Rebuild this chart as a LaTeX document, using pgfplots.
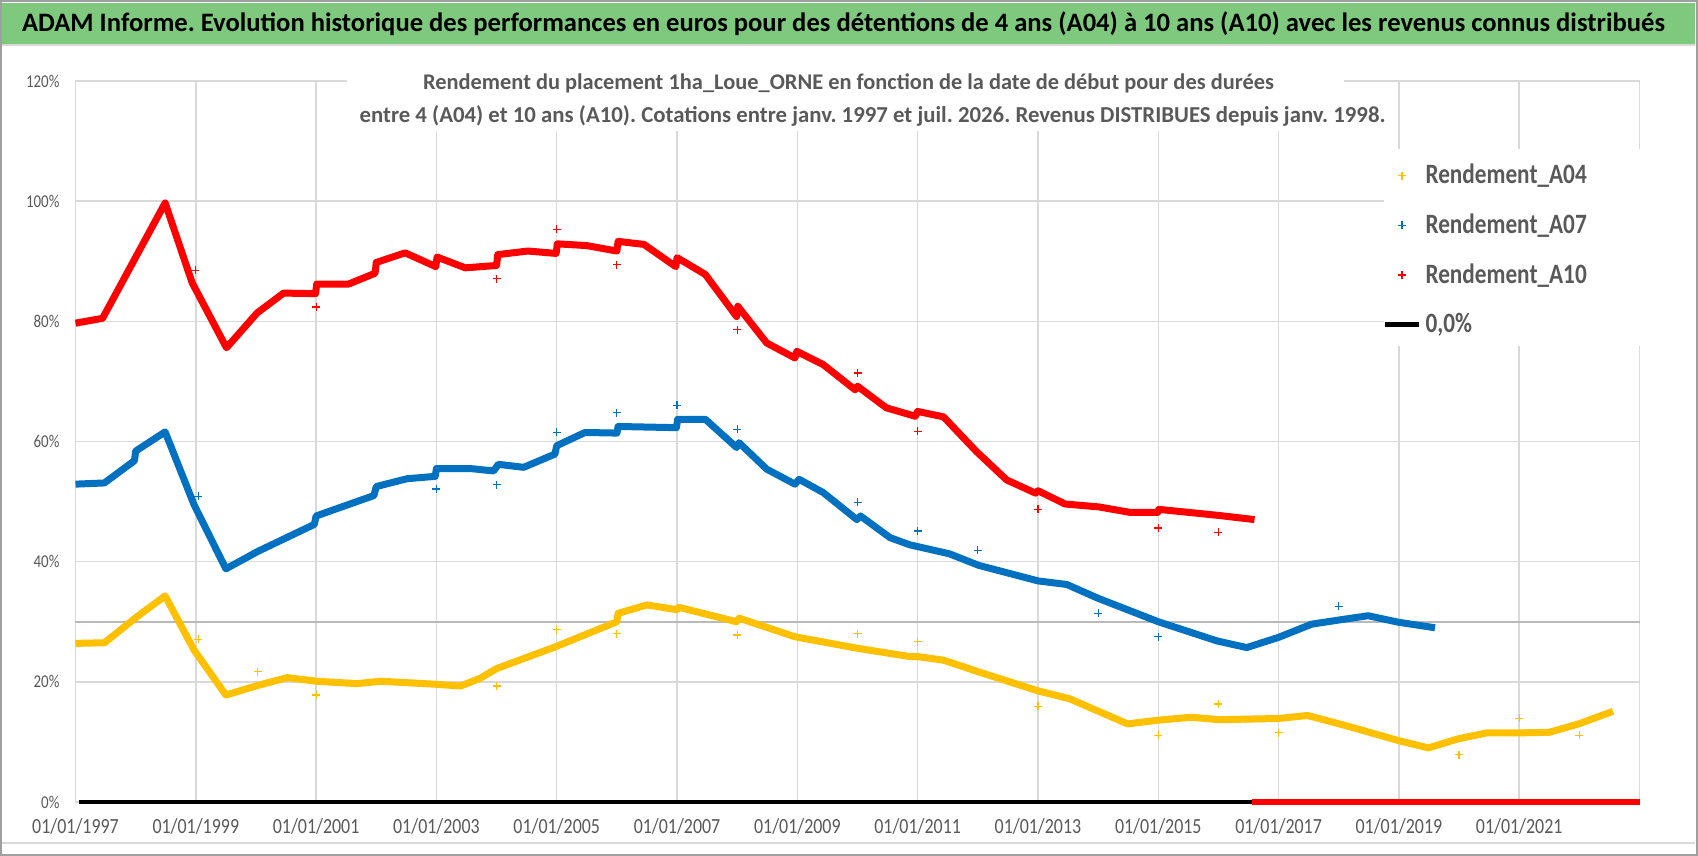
\documentclass[border=0pt]{standalone}
\usepackage{fontspec}
\setmainfont{Carlito}[FakeStretch=0.83]
\newfontfamily\titlefont{Carlito}
\usepackage{pgfplots}
\pgfplotsset{compat=1.18}
\definecolor{ygold}{HTML}{FFC000}
\definecolor{xblue}{HTML}{0070C0}
\definecolor{xred}{HTML}{FF0000}
\definecolor{txtgray}{HTML}{595959}
\definecolor{gridgray}{HTML}{D9D9D9}
\definecolor{band}{HTML}{7FC97F}
\frenchspacing
\begin{document}
\begin{tikzpicture}[x=0.5pt,y=0.5pt]
\path[use as bounding box] (0,0) rectangle (1698,856);
\fill[white] (0,0) rectangle (1698,856);
\fill[band] (2,812) rectangle (1695,853);
\draw[gridgray, line width=0.75pt] (2,811) -- (1695,811);
\draw[gridgray, line width=0.75pt] (2,13) -- (1695,13);
\draw[gray!75, line width=1pt] (1,1) rectangle (1697,855);
\node[anchor=base, font=\titlefont\bfseries\fontsize{13.3}{15}\selectfont, text=black, inner sep=0pt] at (843.5,824)
 {ADAM Informe. Evolution historique des performances en euros pour des détentions de 4 ans (A04) à 10 ans (A10) avec les revenus connus distribués};
\begin{axis}[
 at={(37.75pt,27pt)}, anchor=south west, scale only axis,
 width=782pt, height=360.5pt,
 xmin=1997, xmax=2023, ymin=0, ymax=120,
 xtick={1997,1999,2001,2003,2005,2007,2009,2011,2013,2015,2017,2019,2021,2023},
 xticklabels={01/01/1997,01/01/1999,01/01/2001,01/01/2003,01/01/2005,01/01/2007,01/01/2009,01/01/2011,01/01/2013,01/01/2015,01/01/2017,01/01/2019,01/01/2021,{}},
 ytick={0,20,40,60,80,100,120},
 /pgf/number format/assume math mode=true,
 yticklabel={\pgfmathprintnumber{\tick}\%},
 extra y ticks={30}, extra y tick labels={},
 extra y tick style={major grid style={draw=gray!55, line width=0.8pt}},
 grid=major, major grid style={draw=gridgray, line width=0.75pt},
 axis line style={draw=none}, major tick length=0pt,
 xticklabel style={font=\fontsize{10.8}{12}\selectfont, text=txtgray, anchor=north, yshift=-4.5pt},
 yticklabel style={font=\fontsize{9}{10}\selectfont, text=txtgray, anchor=east, xshift=-4.5pt},
 clip=false,
 legend style={at={(axis cs:2018.39,108.2)}, anchor=north west, draw=none, fill=none,
   font=\bfseries\fontsize{14}{16}\selectfont, text=txtgray, row sep=9.5pt,
   inner xsep=10pt, inner ysep=4pt},
 legend cell align=left,
]
% white boxes for chart title and legend
\fill[white] (axis cs:2001.52,111.7) rectangle (axis cs:2018.08,121);
\fill[white] (axis cs:2018.75,75.9) rectangle (axis cs:2023.2,108.7);
\node[font=\titlefont\bfseries\fontsize{11.2}{13}\selectfont, text=txtgray] at (axis cs:2009.85,119.6)
 {Rendement du placement 1ha\_Loue\_ORNE en fonction de la date de début pour des durées};
\node[font=\titlefont\bfseries\fontsize{11.4}{13}\selectfont, text=txtgray] at (axis cs:2010.25,114.1)
 {entre 4 (A04) et 10 ans (A10). Cotations entre janv. 1997 et juil. 2026. Revenus DISTRIBUES depuis janv. 1998.};

% zero line
\addplot[black, line width=2.4pt, forget plot] coordinates {(1997.05,0) (2023,0)};
\addplot[xred, line width=3pt, forget plot] coordinates {(2016.55,0) (2023,0)};

% A04
\addplot[ygold, line width=3.5pt, line join=round, forget plot] coordinates {
(1997.00,26.4) (1997.48,26.5) (1998.03,30.9) (1998.49,34.3) (1998.97,25.3) (1999.50,17.8)
(2000.03,19.4) (2000.52,20.7) (2001.00,20.1) (2001.68,19.7) (2002.07,20.1) (2002.98,19.6)
(2003.40,19.3) (2003.73,20.6) (2004.00,22.2) (2004.97,25.8) (2006.00,30.0) (2006.02,31.4)
(2006.50,32.8) (2007.00,32.0) (2007.03,32.4) (2007.99,30.0) (2008.03,30.6) (2008.96,27.5)
(2009.99,25.6) (2010.87,24.2) (2011.00,24.2) (2011.43,23.6) (2012.00,21.7) (2013.00,18.5)
(2013.52,17.2) (2014.49,13.0) (2014.98,13.6) (2015.54,14.1) (2016.02,13.7) (2017.00,13.9)
(2017.48,14.4) (2018.12,12.7) (2019.00,10.2) (2019.49,9.0) (2019.98,10.5) (2020.46,11.5)
(2021.00,11.5) (2021.50,11.6) (2021.99,13.0) (2022.56,15.1)};
\addplot[only marks, mark=+, mark size=2pt, ygold, line width=0.6pt, forget plot] coordinates {
(1999.04,27.1) (2000.03,21.7) (2001.0,17.8) (2004.0,19.3) (2005.0,28.7) (2006.0,28.0)
(2008.0,27.8) (2010.0,28.0) (2011.0,26.7) (2013.0,15.9) (2015.0,11.1) (2016.0,16.3)
(2017.0,11.5) (2020.0,7.9) (2021.0,13.9) (2022.0,11.1)};

% A07
\addplot[xblue, line width=3.5pt, line join=round, forget plot] coordinates {
(1997.00,52.9) (1997.48,53.1) (1997.98,56.8) (1998.00,58.4) (1998.49,61.6) (1998.97,49.5)
(1999.50,38.8) (2000.03,41.7) (2000.97,46.2) (2001.00,47.6) (2001.96,51.0) (2002.00,52.5)
(2002.51,53.8) (2002.98,54.2) (2003.00,55.5) (2003.56,55.5) (2003.95,55.1) (2004.03,56.2)
(2004.45,55.7) (2004.97,57.9) (2005.00,59.3) (2005.47,61.5) (2006.00,61.4) (2006.02,62.5)
(2006.99,62.3) (2007.01,63.7) (2007.47,63.7) (2007.99,59.0) (2008.03,59.8) (2008.49,55.4)
(2008.96,52.9) (2009.03,53.7) (2009.43,51.5) (2009.99,47.0) (2010.05,47.6) (2010.54,44.0)
(2010.87,42.8) (2011.53,41.3) (2012.01,39.4) (2013.00,36.8) (2013.48,36.2) (2014.00,33.9)
(2015.00,30.0) (2015.98,26.8) (2016.47,25.7) (2017.00,27.4) (2017.55,29.6) (2018.01,30.3)
(2018.49,31.0) (2019.00,29.9) (2019.60,29.0)};
\addplot[only marks, mark=+, mark size=2pt, xblue, line width=0.6pt, forget plot] coordinates {
(1999.04,50.9) (2003.0,52.1) (2004.0,52.8) (2005.0,61.5) (2006.0,64.8) (2007.0,66.0)
(2008.0,62.0) (2010.0,49.9) (2011.0,45.1) (2012.0,41.9) (2014.0,31.4) (2015.0,27.5) (2018.0,32.6)};

% A10
\addplot[xred, line width=3.5pt, line join=round, forget plot] coordinates {
(1997.00,79.7) (1997.45,80.5) (1998.49,99.7) (1998.94,86.4) (1999.51,75.6) (2000.02,81.4)
(2000.46,84.7) (2000.99,84.6) (2001.01,86.2) (2001.54,86.2) (2001.98,88.0) (2002.00,89.8)
(2002.48,91.4) (2002.99,89.1) (2003.01,90.7) (2003.48,88.9) (2004.00,89.3) (2004.02,91.1)
(2004.52,91.7) (2004.99,91.3) (2005.01,92.9) (2005.50,92.6) (2006.00,91.7) (2006.02,93.3)
(2006.45,92.8) (2006.98,89.1) (2007.00,90.6) (2007.47,87.8) (2007.99,80.8) (2008.01,82.5)
(2008.49,76.4) (2008.96,73.9) (2008.99,75.0) (2009.43,72.8) (2009.96,68.6) (2010.00,69.2)
(2010.48,65.6) (2010.96,64.2) (2011.00,65.0) (2011.43,64.1) (2011.98,58.3) (2012.48,53.6)
(2012.96,51.4) (2013.00,51.8) (2013.45,49.6) (2014.02,49.1) (2014.53,48.2) (2014.99,48.2)
(2015.01,48.7) (2016.00,47.7) (2016.60,47.0)};
\addplot[only marks, mark=+, mark size=2pt, xred, line width=0.6pt, forget plot] coordinates {
(1998.99,88.5) (2001.0,82.4) (2004.0,87.1) (2005.0,95.3) (2006.0,89.4) (2008.0,78.6)
(2010.0,71.4) (2011.0,61.7) (2013.0,48.7) (2015.0,45.6) (2016.0,44.9)};

\addlegendimage{only marks, mark=+, mark size=2pt, ygold, line width=0.6pt}
\addlegendentry{Rendement\_A04}
\addlegendimage{only marks, mark=+, mark size=2pt, xblue, line width=0.6pt}
\addlegendentry{Rendement\_A07}
\addlegendimage{only marks, mark=+, mark size=2pt, xred, line width=0.6pt}
\addlegendentry{Rendement\_A10}
\addlegendimage{black, line width=2.4pt}
\addlegendentry{0,0\%}
\end{axis}
\end{tikzpicture}
\end{document}
